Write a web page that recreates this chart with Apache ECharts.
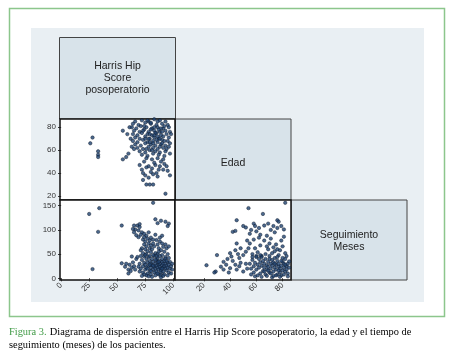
<!DOCTYPE html>
<html>
<head>
<meta charset="utf-8">
<script src="https://cdn.jsdelivr.net/npm/echarts@6/dist/echarts.min.js"></script>
<style>html,body{margin:0;padding:0;background:#fff}#main{width:453px;height:353px}</style>
</head>
<body>
<div id="main"></div>
<script>
// ticks
var hhsTicks = [0, 25, 50, 75, 100];
var edadTicks = [20, 40, 60, 80];
var mesesTicks = [0, 50, 100, 150];

// Harris Hip Score (x) vs Edad (y)
var hhsEdad = [
  [66,85],[72,86],[78,85],[83,87],[88,86],[93,85],
  [64,83],[69,82],[75,84],[80,83],[85,82],[90,83],[95,82],
  [63,80],[67,79],[71,81],[76,80],[81,79],[86,80],[91,79],[96,80],
  [65,77],[70,76],[74,78],[78,76],[83,77],[88,76],[93,77],[97,76],
  [64,74],[68,73],[72,75],[77,74],[81,73],[85,75],[89,73],[94,74],[98,74],
  [66,71],[70,70],[75,72],[79,70],[83,71],[87,70],[91,72],[96,71],
  [64,68],[68,67],[73,69],[77,67],[82,68],[86,67],[90,69],[95,68],
  [66,65],[71,64],[75,66],[80,65],[84,64],[89,65],[93,64],[97,66],
  [68,62],[73,61],[78,63],[82,62],[86,61],[91,62],[96,63],
  [70,59],[75,58],[79,60],[84,59],[88,58],[93,59],
  [72,56],[77,55],[82,57],[87,56],[92,55],[97,57],
  [76,53],[81,52],[86,53],[91,52],
  [80,78],[84,75],[78,70],[86,72],[82,66],[88,63],[76,61],[90,76],[74,81],[92,68],[80,84],[86,85],[79,74],[83,80],[89,79],[85,69],
  [84,88],[77,86],[73,77],[88,70],[81,60],[94,61],[79,67],[87,78],[92,81],[75,70],[83,73],[90,66],
  [55,77],[61,80],[59,74],[58,54],[55,52],[63,63],[65,61],[62,70],[60,57],
  [26,66],[28,71],[33,59],[33,56],[33,54],
  [70,47],[72,43],[73,40],[75,38],[78,46],[81,44],[84,47],[88,46],[91,43],[95,42],[79,30],[82,30],[76,30],[73,34],[97,38],[93,22],
  [85,40],[87,43],[80,41],[92,48],[76,45],[83,49],[89,50],[74,50],[94,46],[78,36],[86,37],[82,39]
];

// Harris Hip Score (x) vs Seguimiento meses (y)
var hhsMeses = [
  [25,133],[34,145],[33,96],[28,19],[54,109],[82,156],[84,122],[89,119],[93,117],[96,113],[95,108],[86,114],
  [65,109],[68,109],[66,101],[69,99],[70,106],[72,95],[65,95],[67,89],[71,90],[69,85],[64,102],[70,112],
  [74,92],[76,88],[73,80],[75,76],[77,82],[79,78],[74,70],[76,66],[78,72],[80,68],[75,60],[77,56],[79,62],[73,52],[76,50],[80,54],
  [78,95],[74,85],[72,62],[71,58],
  [82,80],[85,79],[88,76],[90,72],[86,70],[91,65],[94,62],[83,66],[87,62],[89,58],[92,55],[84,52],[86,50],[95,50],[81,60],[93,70],
  [96,66],[88,84],[90,88],[84,90],[82,72],[87,55],[80,84],
  [54,31],[57,24],[60,18],[61,28],[63,22],[58,30],[62,15],[65,25],[64,33],[66,18],[67,40],[68,44],[63,45],[60,10],
  [70,30],[71,20],[72,38],[73,25],[73,12],[74,32],[74,45],[75,18],[75,28],[76,40],[76,22],[77,10],[77,33],[78,26],[78,44],[79,15],
  [79,36],[80,22],[80,30],[80,8],[81,40],[81,27],[82,18],[82,34],[83,24],[83,12],[83,46],[84,30],[84,20],[85,38],[85,26],[85,14],
  [86,33],[86,22],[86,42],[87,28],[87,18],[87,8],[88,36],[88,24],[88,30],[89,20],[89,12],[89,6],[89,2],[89,16],[90,27],[90,34],
  [90,40],[91,22],[91,30],[91,14],[92,25],[92,36],[93,20],[93,30],[93,44],[94,26],[94,16],[95,33],[95,22],[96,28],[96,12],[97,20],
  [97,34],[98,25],[99,18],[99,30],[76,6],[78,4],[74,8],[72,5],[81,3],[84,6],[92,8],[95,6],[98,10],[70,14],[69,24],[71,46],
  [75,48],[79,46],[82,48],[85,46],[90,48],[93,40],[96,42],[88,46],[77,20],[80,15],[86,10],[91,5],[84,38],[79,28],[82,26],[87,34],
  [90,20],[94,36]
];

// Edad (x) vs Seguimiento meses (y)
var edadMeses = [
  [82,156],[54,145],[65,133],[45,120],[76,120],[22,27],[30,48],[29,14],[35,18],[42,96],[44,98],
  [50,108],[52,105],[58,113],[59,108],[62,104],[56,100],[60,97],[69,113],[73,108],[77,117],[79,108],[81,101],[81,86],[66,109],
  [71,100],[63,90],[74,95],[68,88],[55,92],[76,104],
  [40,52],[41,45],[45,72],[48,62],[52,55],[55,72],[59,62],[63,68],[66,78],[69,60],[72,52],[75,70],[78,58],[80,66],[46,50],[50,48],
  [57,50],[61,54],[64,46],[67,50],[70,72],[73,64],[77,48],[79,78],[82,52],[54,62],[58,80],[62,84],[71,82],[74,56],[76,60],[68,66],
  [60,46],[44,58],[53,78],
  [35,34],[33,24],[37,28],[40,21],[44,28],[45,18],[28,12],[38,40],[42,36],[47,25],[48,32],[50,14],[52,30],[53,20],[47,42],[39,12],
  [55,30],[56,20],[57,38],[58,25],[58,12],[59,32],[60,44],[60,18],[61,28],[62,40],[62,22],[63,10],[63,33],[64,26],[64,44],[65,15],
  [65,36],[66,22],[66,30],[67,8],[67,40],[68,27],[68,18],[69,34],[69,24],[70,12],[70,46],[71,30],[71,20],[72,38],[72,26],[73,14],
  [73,33],[74,22],[74,42],[75,28],[75,18],[76,8],[76,36],[77,24],[77,30],[78,20],[78,12],[79,6],[79,26],[80,16],[80,34],[81,22],
  [81,30],[82,14],[82,40],[83,25],[83,18],[84,30],[84,10],[85,22],[85,35],[56,8],[59,4],[61,6],[64,3],[68,5],[72,2],[75,6],
  [78,3],[81,8],[84,4],[57,44],[63,48],[70,40],[76,44],[80,42],[83,46],[66,14],[73,5],[77,16],[79,36],[82,28],[69,16],[74,30],[71,10]
];

var myChart = echarts.init(document.getElementById('main'), null, {renderer: 'canvas'});

var lbl = {fontSize: 8, color: '#333', fontFamily: 'Liberation Sans'};
var tick = {length: 3, lineStyle: {color: '#222', width: 1}};

function hiddenAxis(grid, min, max) {
  return {gridIndex: grid, type: 'value', min: min, max: max,
    axisLine: {show: false}, axisTick: {show: false}, axisLabel: {show: false}, splitLine: {show: false}};
}
function xAx(grid, min, max, ticks) {
  return {gridIndex: grid, type: 'value', min: min, max: max,
    axisLine: {show: false}, splitLine: {show: false},
    axisTick: Object.assign({show: true, customValues: ticks}, tick),
    axisLabel: Object.assign({customValues: ticks, rotate: 45, margin: 4}, lbl)};
}
function yAx(grid, min, max, ticks) {
  return {gridIndex: grid, type: 'value', min: min, max: max,
    axisLine: {show: false}, splitLine: {show: false},
    axisTick: Object.assign({show: true, customValues: ticks}, tick),
    axisLabel: Object.assign({customValues: ticks, margin: 4}, lbl)};
}

var gridStyle = {show: true, backgroundColor: '#fff', borderColor: '#111', borderWidth: 1.5};

var dot = {
  type: 'scatter', symbol: 'circle', symbolSize: 3.4, silent: true,
  itemStyle: {color: '#1f4472', borderColor: '#0c1a2c', borderWidth: 0.6}
};

var option = {
  backgroundColor: '#fff',
  animation: false,
  grid: [
    Object.assign({left: 60, top: 119, width: 115, height: 81}, gridStyle),
    Object.assign({left: 60, top: 200, width: 115, height: 80}, gridStyle),
    Object.assign({left: 175, top: 200, width: 116, height: 80}, gridStyle)
  ],
  xAxis: [
    hiddenAxis(0, -1, 101.5),
    xAx(1, -1, 101.5, hhsTicks),
    xAx(2, -2, 86.4, edadTicks)
  ],
  yAxis: [
    yAx(0, 16.5, 87.2, edadTicks),
    yAx(1, -3.5, 161.8, mesesTicks),
    hiddenAxis(2, -3.5, 161.8)
  ],
  graphic: [
    {type: 'rect', z: -10, shape: {x: 9.5, y: 8.5, width: 435, height: 308}, style: {fill: '#fff', stroke: '#8cc68c', lineWidth: 1.5}},
    {type: 'rect', z: -9, shape: {x: 31, y: 28, width: 393, height: 274}, style: {fill: '#e9eff3'}},
    {type: 'rect', z: -8, shape: {x: 59.5, y: 37.5, width: 116, height: 81.5}, style: {fill: '#d8e3ea', stroke: '#444', lineWidth: 1}},
    {type: 'rect', z: -8, shape: {x: 175.5, y: 119, width: 115.5, height: 81}, style: {fill: '#d8e3ea', stroke: '#444', lineWidth: 1}},
    {type: 'rect', z: -8, shape: {x: 291, y: 200, width: 116, height: 80}, style: {fill: '#d8e3ea', stroke: '#444', lineWidth: 1}},
    {type: 'text', z: 5, x: 117.5, y: 78.5, style: {text: 'Harris Hip\nScore\nposoperatorio', align: 'center', verticalAlign: 'middle',
      font: '10.5px "Liberation Sans"', lineHeight: 12, fill: '#222'}},
    {type: 'text', z: 5, x: 233, y: 163, style: {text: 'Edad', align: 'center', verticalAlign: 'middle',
      font: '10.5px "Liberation Sans"', fill: '#222'}},
    {type: 'text', z: 5, x: 349, y: 241, style: {text: 'Seguimiento\nMeses', align: 'center', verticalAlign: 'middle',
      font: '10.5px "Liberation Sans"', lineHeight: 12, fill: '#222'}},
    {type: 'text', z: 5, x: 9, y: 326, style: {
      text: '{g|Figura 3.} {b|Diagrama de dispersión entre el Harris Hip Score posoperatorio, la edad y el tiempo de}\n{b|seguimiento (meses) de los pacientes.}',
      verticalAlign: 'top', lineHeight: 13,
      rich: {
        g: {fill: '#3f9a45', font: '10.4px "Liberation Serif"'},
        b: {fill: '#000', font: '10.4px "Liberation Serif"'}
      }}}
  ],
  series: [
    Object.assign({xAxisIndex: 0, yAxisIndex: 0, data: hhsEdad}, dot),
    Object.assign({xAxisIndex: 1, yAxisIndex: 1, data: hhsMeses}, dot),
    Object.assign({xAxisIndex: 2, yAxisIndex: 2, data: edadMeses}, dot)
  ]
};

myChart.setOption(option);
</script>
</body>
</html>
